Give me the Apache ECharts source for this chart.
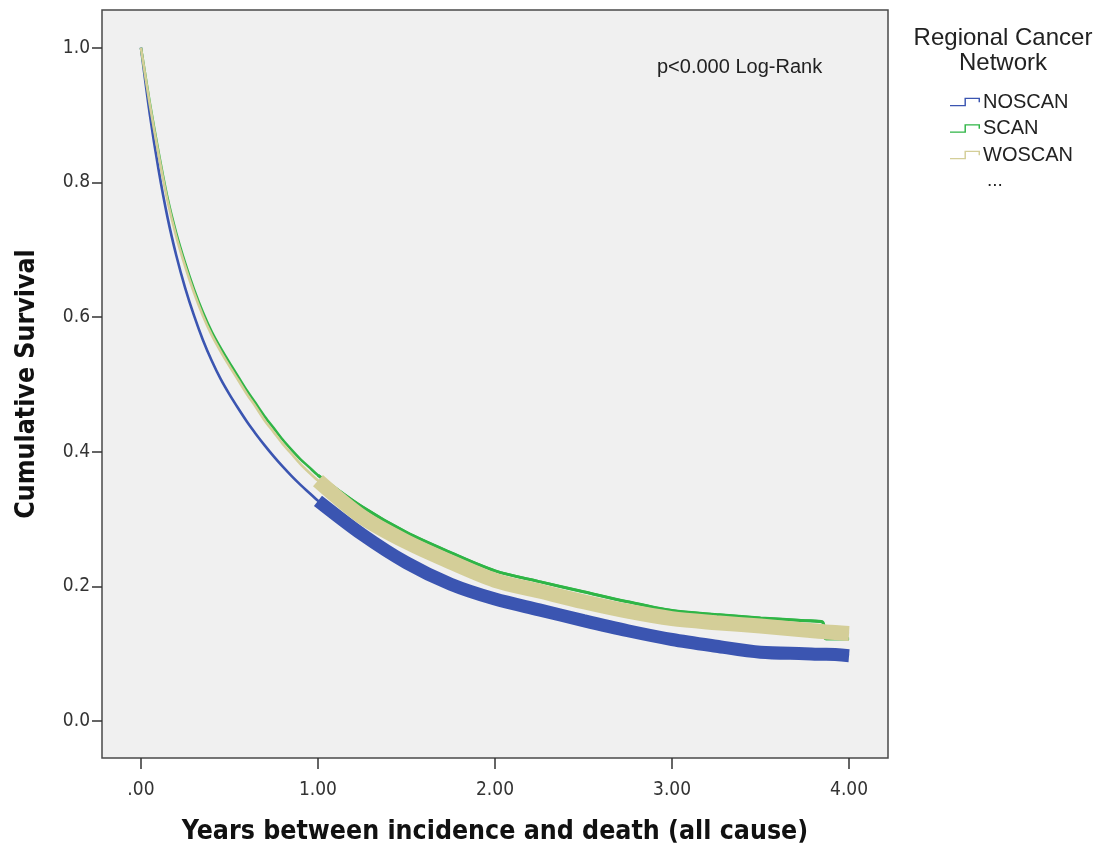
<!DOCTYPE html>
<html><head><meta charset="utf-8">
<script src="https://cdn.jsdelivr.net/npm/echarts@6/dist/echarts.min.js"></script>
<style>html,body{margin:0;padding:0;background:#fff}#c{width:1100px;height:848px}</style>
</head><body><div id="c"></div>
<script>
// Time points (years) at which the curves were read
const years  = [0, 0.05, 0.1, 0.15, 0.2, 0.25, 0.3, 0.35, 0.4, 0.45, 0.5, 0.55, 0.6, 0.65, 0.7, 0.75, 0.8, 0.85, 0.9, 0.95, 1.0,
                1.25, 1.5, 1.75, 2.0, 2.25, 2.5, 2.75, 3.0, 3.25, 3.5, 3.75, 3.85, 3.87, 4.0];
const noscan = [1.0, 0.901, 0.818, 0.748, 0.691, 0.643, 0.602, 0.566, 0.535, 0.508, 0.485, 0.464, 0.444, 0.426, 0.409, 0.393, 0.378, 0.364, 0.351, 0.339, 0.327,
                0.277, 0.235, 0.203, 0.181, 0.165, 0.149, 0.134, 0.121, 0.111, 0.102, 0.100, 0.099, 0.099, 0.097];
const scan   = [1.0, 0.918, 0.844, 0.777, 0.724, 0.680, 0.641, 0.607, 0.578, 0.554, 0.532, 0.511, 0.490, 0.471, 0.452, 0.435, 0.418, 0.403, 0.389, 0.377, 0.365,
                0.318, 0.280, 0.250, 0.223, 0.207, 0.192, 0.177, 0.164, 0.158, 0.153, 0.149, 0.147, 0.122, 0.122];
const woscan = [1.0, 0.916, 0.841, 0.773, 0.719, 0.675, 0.636, 0.602, 0.573, 0.549, 0.527, 0.506, 0.485, 0.466, 0.446, 0.429, 0.412, 0.397, 0.382, 0.369, 0.357,
                0.303, 0.266, 0.236, 0.209, 0.193, 0.177, 0.163, 0.152, 0.146, 0.141, 0.135, 0.133, 0.132, 0.130];
const censorStart = 1.0;   // censored cases (+ marks) appear from here on
const xTicks = [0, 1, 2, 3, 4];
const xTickLabels = ['.00', '1.00', '2.00', '3.00', '4.00'];
const yTicks = [0, 0.2, 0.4, 0.6, 0.8, 1.0];
const yTickLabels = ['0.0', '0.2', '0.4', '0.6', '0.8', '1.0'];
const seriesNames = ['NOSCAN', 'SCAN', 'WOSCAN'];
const colors = ['#3b55b1', '#2fb546', '#d4ce98'];

function pairs(vals, fromT, toT) {
  const out = [];
  years.forEach((t, i) => { if (t >= fromT && t <= toT) out.push([t, vals[i]]); });
  return out;
}
const vals = [noscan, scan, woscan];
const bandWidth = [13, 3, 15];

const series = [];
vals.forEach((v, k) => {
  series.push({
    name: seriesNames[k], type: 'line', data: pairs(v, 0, 4.1), smooth: 0.3,
    showSymbol: false, lineStyle: { color: colors[k], width: 2.6 }, itemStyle: { color: colors[k] },
    z: 2 + k, silent: true
  });
  series.push({
    name: seriesNames[k], type: 'line', data: pairs(v, censorStart, 4.1), smooth: 0.3,
    showSymbol: false, lineStyle: { color: colors[k], width: bandWidth[k], cap: 'butt' }, itemStyle: { color: colors[k] },
    z: 2 + k, silent: true
  });
});

const stepIcon = 'path://M0,8.5 L14,8.5 L14,1.5 L29,1.5 L29,6 L27.6,6 L27.6,2.9 L15.4,2.9 L15.4,9.9 L0,9.9 Z';
const font = 'Liberation Sans, Arial, sans-serif';
const narrow = '"Liberation Sans Narrow", "DejaVu Sans Condensed", Arial, sans-serif';

const chart = echarts.init(document.getElementById('c'), null, { renderer: 'canvas' });
chart.setOption({
  backgroundColor: '#ffffff',
  animation: false,
  grid: { left: 102, top: 10, right: 212, bottom: 90, show: true, backgroundColor: '#f0f0f0',
          borderColor: '#4a4a4a', borderWidth: 1.5, containLabel: false, outerBoundsMode: 'none' },
  xAxis: {
    type: 'value', min: -0.22, max: 4.22,
    axisLine: { show: false, onZero: false }, splitLine: { show: false },
    axisTick: { show: true, customValues: xTicks, length: 11, lineStyle: { color: '#333', width: 1.5 } },
    axisLabel: { customValues: xTicks, margin: 23, color: '#333', fontSize: 19, fontFamily: narrow,
                 formatter: v => xTickLabels[xTicks.indexOf(Math.round(v))] },
    name: 'Years between incidence and death (all cause)', nameLocation: 'middle', nameGap: 61,
    nameTextStyle: { fontSize: 26.5, fontWeight: 'bold', color: '#111', fontFamily: narrow }
  },
  yAxis: {
    type: 'value', min: -0.055, max: 1.056,
    axisLine: { show: false, onZero: false }, splitLine: { show: false },
    axisTick: { show: true, customValues: yTicks, length: 10, lineStyle: { color: '#333', width: 1.5 } },
    axisLabel: { customValues: yTicks, margin: 12, color: '#333', fontSize: 19, fontFamily: narrow,
                 formatter: v => yTickLabels[Math.round(v * 5)] },
    name: 'Cumulative Survival', nameLocation: 'middle', nameGap: 61, nameRotate: 90,
    nameTextStyle: { fontSize: 26.5, fontWeight: 'bold', color: '#111', fontFamily: narrow }
  },
  legend: {
    data: seriesNames.map((n, k) => ({ name: n, icon: stepIcon, itemStyle: { color: colors[k] } })),
    orient: 'vertical', left: 950, top: 92, padding: 0, itemWidth: 30, itemHeight: 12, itemGap: 6.5,
    selectedMode: false,
    textStyle: { color: '#222', fontSize: 20, fontFamily: font, padding: [0, 0, 0, -2] }
  },
  graphic: [
    { type: 'text', x: 1003, y: 26, style: { text: 'Regional Cancer\nNetwork', fill: '#222', font: '24px Liberation Sans, Arial', lineHeight: 25, align: 'center' } },
    { type: 'text', left: 987, top: 171, style: { text: '...', fill: '#222', font: '19px Liberation Sans, Arial' } },
    { type: 'text', left: 657, top: 57, style: { text: 'p<0.000 Log-Rank', fill: '#222', font: '20px Liberation Sans, Arial' } }
  ],
  series: series
});
</script></body></html>
